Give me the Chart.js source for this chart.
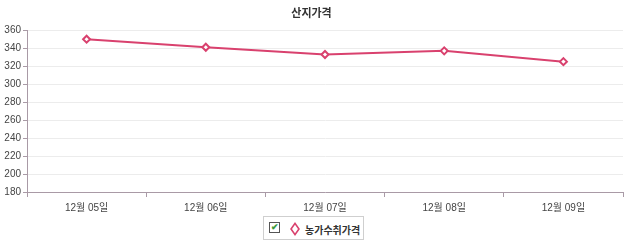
<!DOCTYPE html>
<html>
<head>
<meta charset="utf-8">
<script src="https://cdn.jsdelivr.net/npm/chart.js@4"></script>
<style>
    body { margin: 0; background: #fff; font-family: 'Liberation Sans', 'Noto Sans CJK KR', sans-serif; }
    #wrap { position: relative; width: 630px; height: 219px; }
    #legend {
        position: absolute; left: 263px; top: 216px; width: 101px; height: 24px;
        border: 1px solid #cfcfcf; box-sizing: border-box; background: #fff;
        font-size: 10px; font-weight: bold; color: #333;
    }
    #legend .chk {
        position: absolute; left: 5px; top: 5px; width: 9px; height: 9px;
        border: 1px solid #555; background: #fff; font-size: 9px; line-height: 9px;
        color: #3a9a3a; text-align: center;
    }
    #legend .dia {
        position: absolute; left: 26px; top: 7px; width: 6px; height: 6px;
        border: 2px solid #d9416e; background: #fff; transform: scaleX(0.7) rotate(45deg);
    }
    #legend .txt { position: absolute; left: 41px; top: 5px; }
</style>
</head>
<body>
<div id="wrap"><canvas id="priceChart"></canvas></div>
<div id="legend"><span class="chk">&#10004;</span><span class="dia"></span><span class="txt">농가수취가격</span></div>
<script>
const categories = ['12월 05일', '12월 06일', '12월 07일', '12월 08일', '12월 09일'];
const farmPrice = [350, 341, 333, 337, 325];
const seriesName = '농가수취가격';
const chartTitle = '산지가격';

const fontFamily = "'Liberation Sans', 'Noto Sans CJK KR', sans-serif";
const lineColor = '#d9416e';

document.addEventListener('DOMContentLoaded', function() {
    const ctx = document.getElementById('priceChart');
    new Chart(ctx, {
        type: 'line',
        data: {
            labels: categories,
            datasets: [{
                label: seriesName,
                data: farmPrice,
                borderColor: lineColor,
                backgroundColor: '#ffffff',
                borderWidth: 2,
                pointStyle: 'rectRot',
                pointRadius: 3.5,
                pointBorderWidth: 2,
                pointBackgroundColor: '#ffffff',
                pointBorderColor: lineColor,
                tension: 0,
                fill: false
            }]
        },
        options: {
            responsive: true,
            maintainAspectRatio: false,
            animation: false,
            layout: { padding: { left: 0, right: 7, top: 7, bottom: 0 } },
            plugins: {
                legend: { display: false },
                tooltip: { enabled: false },
                title: {
                    display: true,
                    text: chartTitle,
                    color: '#333',
                    font: { family: fontFamily, size: 11, weight: 'bold' },
                    padding: { top: 0, bottom: 10 }
                }
            },
            scales: {
                x: {
                    offset: true,
                    border: { color: '#a99aa6', width: 1 },
                    grid: {
                        offset: true,
                        drawOnChartArea: false,
                        drawTicks: true,
                        tickLength: 5,
                        color: '#a99aa6'
                    },
                    ticks: {
                        color: '#444',
                        font: { family: fontFamily, size: 10 },
                        padding: 5,
                        maxRotation: 0
                    }
                },
                y: {
                    min: 180,
                    max: 360,
                    border: { color: '#a99aa6', width: 1 },
                    grid: {
                        color: '#ececec',
                        tickColor: '#a99aa6',
                        tickLength: 4
                    },
                    ticks: {
                        stepSize: 20,
                        color: '#444',
                        font: { family: fontFamily, size: 10 },
                        padding: 2
                    },
                    afterFit: function(scale) { scale.width = 27; }
                }
            }
        }
    });
});
</script>
</body>
</html>
